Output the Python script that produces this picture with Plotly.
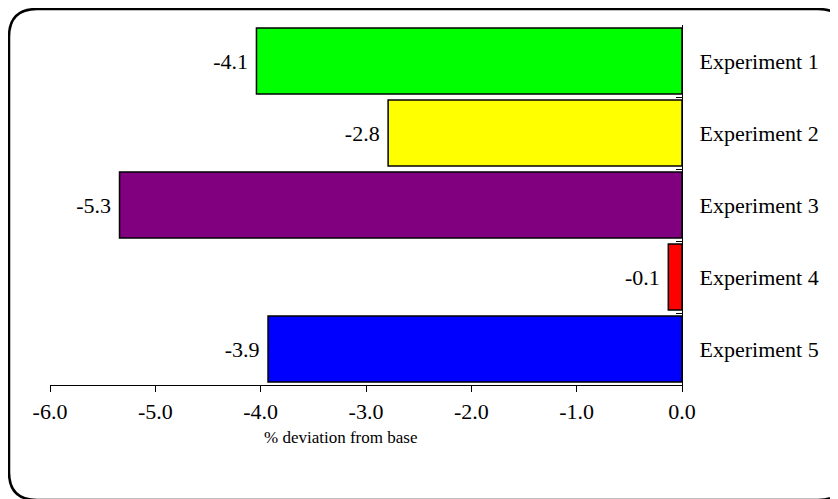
import plotly.graph_objects as go

categories = ["Experiment 1", "Experiment 2", "Experiment 3", "Experiment 4", "Experiment 5"]
values = [-4.04, -2.79, -5.34, -0.13, -3.93]
value_labels = ["-4.1", "-2.8", "-5.3", "-0.1", "-3.9"]
colors = ["#00FF00", "#FFFF00", "#800080", "#FF0000", "#0000FF"]
x_tickvals = [-6, -5, -4, -3, -2, -1, 0]
x_ticktext = ["-6.0", "-5.0", "-4.0", "-3.0", "-2.0", "-1.0", "0.0"]

# page body has an 8px margin; figure coords = screenshot coords - 8
OFF = 8
W, H = 838, 499
L, R, T, B = 50 - OFF, W - (682 - OFF), 25 - OFF, H - (385 - OFF)
FONT = "Liberation Serif"
FS = 22

fig = go.Figure(go.Bar(
    y=categories, x=values, orientation="h",
    marker=dict(color=colors, line=dict(color="black", width=1.5)),
    text=value_labels, texttemplate="%{text}\u00a0", textposition="outside",
    textfont=dict(family=FONT, size=FS, color="black"),
    cliponaxis=False,
))

pw, ph = W - L - R, H - T - B
def px(x): return (x - OFF - L) / pw
def py(y): return (H - B - (y - OFF)) / ph

x0, x1, y0, y1, r = 9, 846, 9, 500, 28
path = (f"M {px(x0+r)},{py(y0)} L {px(x1-r)},{py(y0)} Q {px(x1)},{py(y0)} {px(x1)},{py(y0+r)} "
        f"L {px(x1)},{py(y1-r)} Q {px(x1)},{py(y1)} {px(x1-r)},{py(y1)} "
        f"L {px(x0+r)},{py(y1)} Q {px(x0)},{py(y1)} {px(x0)},{py(y1-r)} "
        f"L {px(x0)},{py(y0+r)} Q {px(x0)},{py(y0)} {px(x0+r)},{py(y0)} Z")

fig.update_layout(
    width=W, height=H,
    margin=dict(l=L, r=R, t=T, b=B, pad=0),
    paper_bgcolor="white", plot_bgcolor="white",
    font=dict(family=FONT, size=FS, color="black"),
    showlegend=False,
    bargap=0.083,
    shapes=[dict(type="path", path=path, xref="paper", yref="paper",
                 line=dict(color="black", width=2.5), layer="above")],
    annotations=[dict(text="% deviation from base", xref="paper", yref="paper",
                      x=px(340), y=py(437), xanchor="center", yanchor="middle",
                      showarrow=False, font=dict(family=FONT, size=17, color="black"))],
    xaxis=dict(range=[-6, 0], tickvals=x_tickvals, ticktext=x_ticktext,
               showline=True, linecolor="black", linewidth=1.2,
               ticks="outside", ticklen=6, tickcolor="black", tickwidth=1,
               showgrid=False, zeroline=False, fixedrange=True),
    yaxis=dict(autorange="reversed", side="right",
               showline=True, linecolor="black", linewidth=1.2,
               ticks="inside", ticklen=6, tickcolor="black", tickson="boundaries",
               showgrid=False, zeroline=False, ticklabelstandoff=12),
)

fig.write_html("out.html")
